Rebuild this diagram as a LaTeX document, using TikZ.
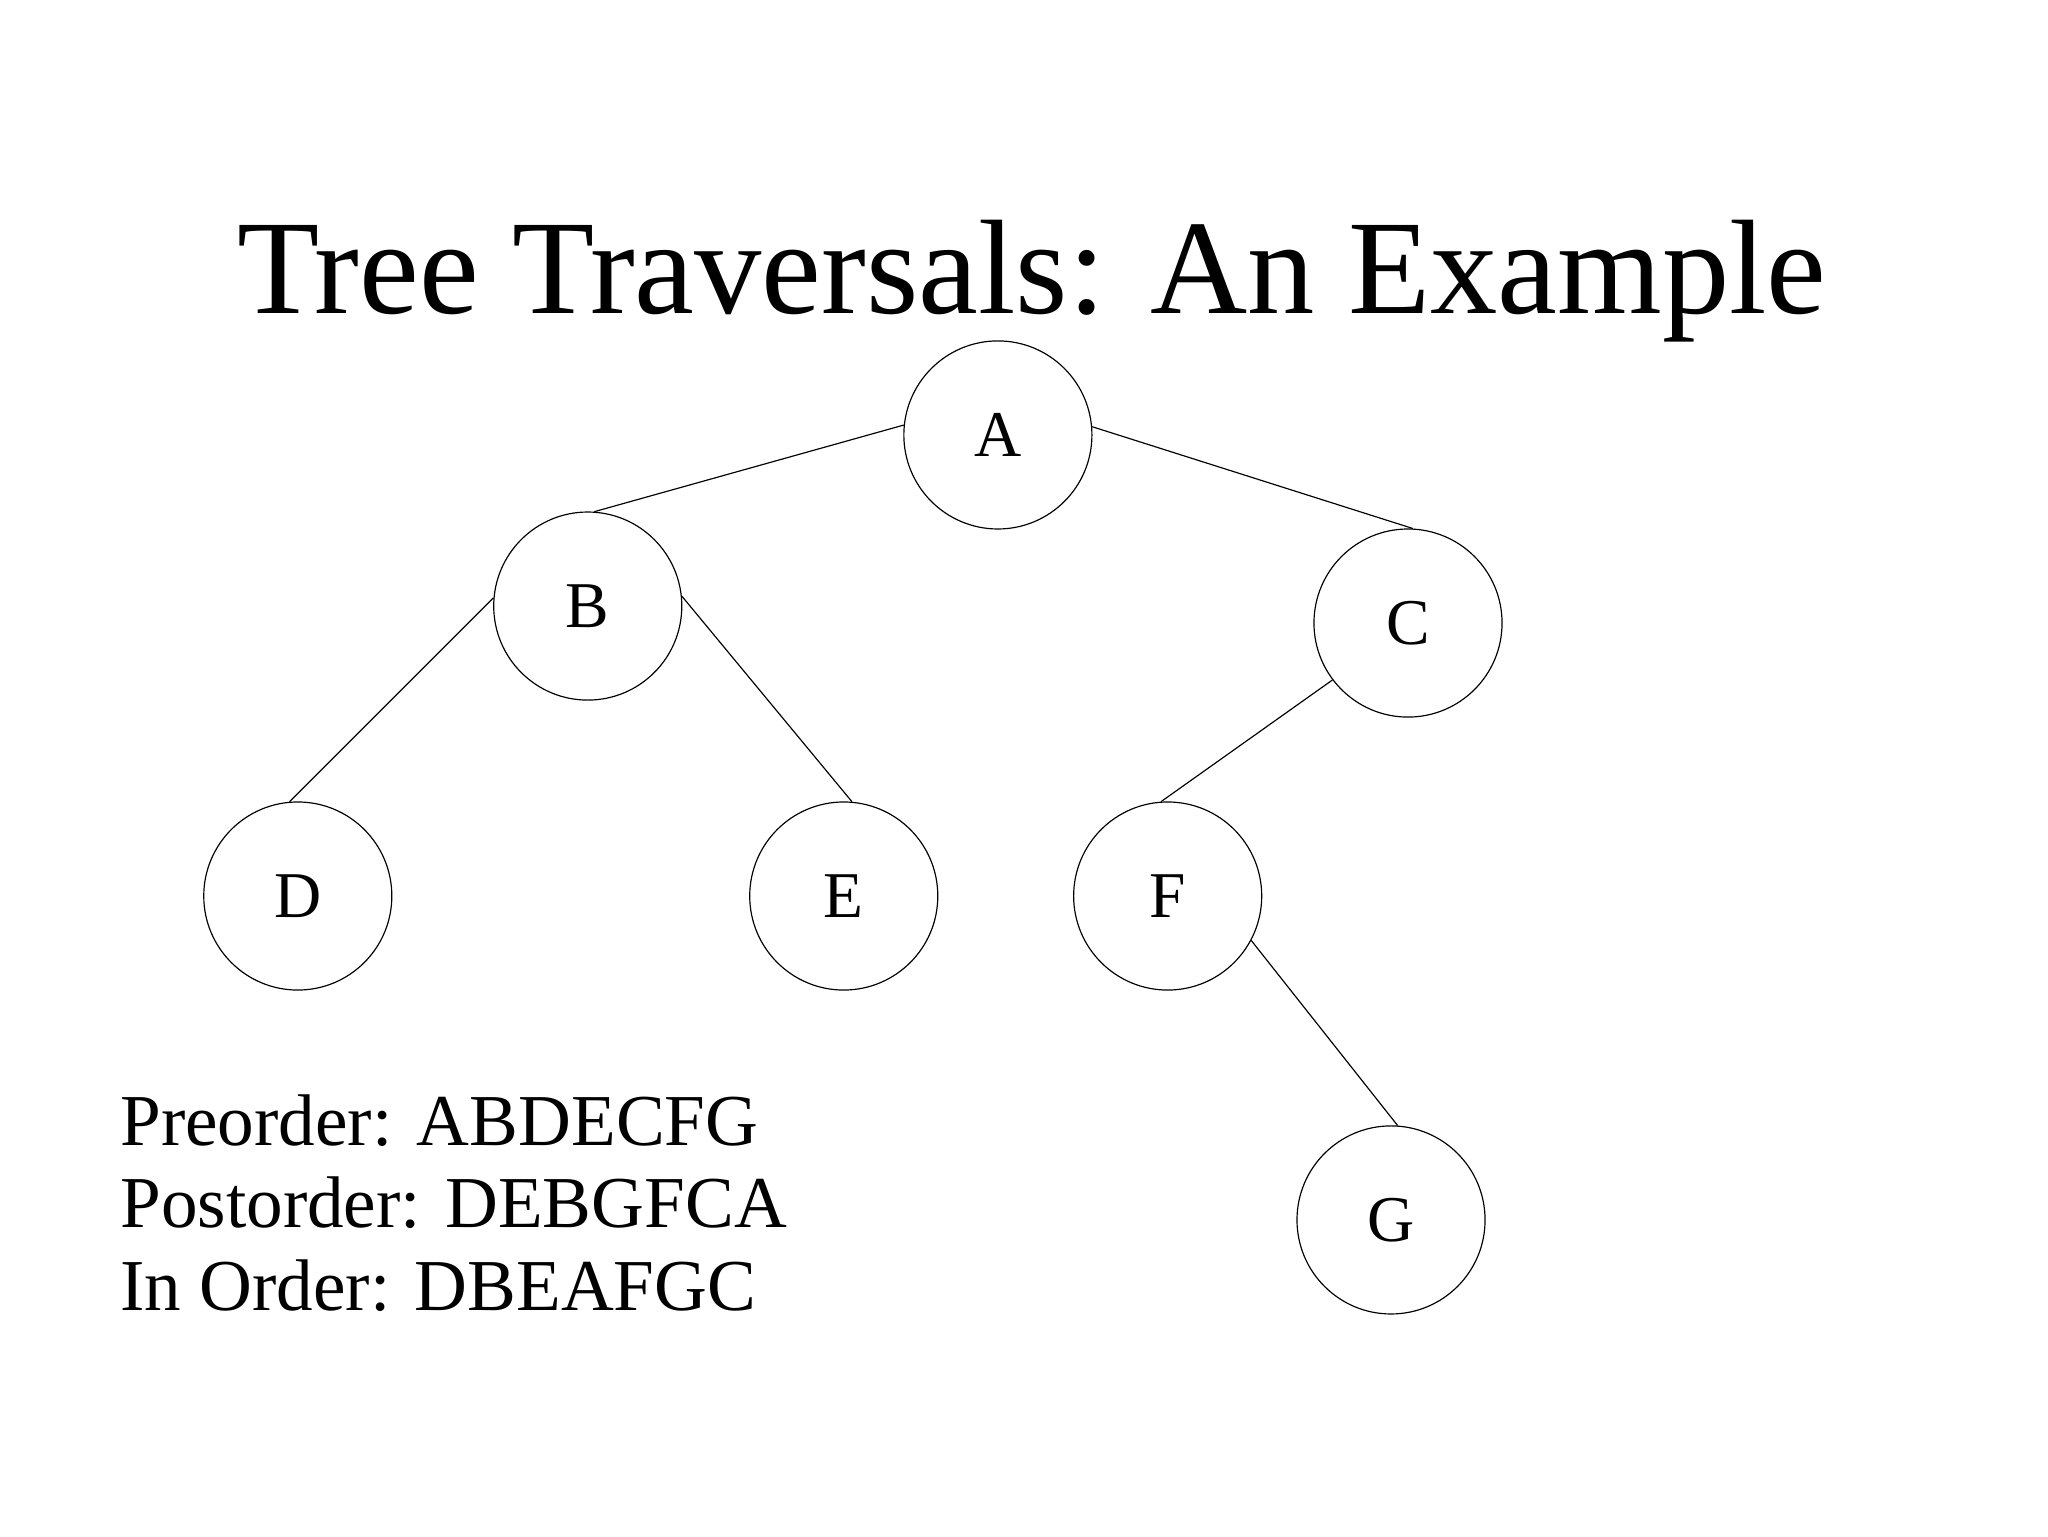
\documentclass[tikz,border=0pt]{standalone}
\usepackage{fontspec}
\setmainfont{Liberation Serif}
\begin{document}
\begin{tikzpicture}[x=1pt,y=-1pt,
  tnode/.style={draw,circle,minimum size=144pt,inner sep=0pt,line width=0.9pt,font=\fontsize{50}{60}\selectfont},
  edge/.style={line width=0.9pt}]
\useasboundingbox (0,0) rectangle (1568,1176);
\node[anchor=base,font=\fontsize{103}{120}\selectfont] (title) at (790,240) {Tree Traversals: An Example};
\node[tnode] (A) at (764,333) {A};
\node[tnode] (B) at (450,464) {B};
\node[tnode] (C) at (1078,477) {C};
\node[tnode] (D) at (228,686) {D};
\node[tnode] (E) at (646,686) {E};
\node[tnode] (F) at (894,686) {F};
\node[tnode] (G) at (1065,934) {G};
\draw[edge] (A.174) -- (B.86);
\draw[edge] (A.5) -- (C.87);
\draw[edge] (B.175) -- (D.95);
\draw[edge] (B.6) -- (E.85);
\draw[edge] (C.217) -- (F.94);
\draw[edge] (F.332) -- (G.86);
\node[anchor=base west,inner sep=0pt,font=\fontsize{56}{63}\selectfont] (l1) at (92,877) {Preorder: ABDECFG};
\node[anchor=base west,inner sep=0pt,font=\fontsize{56}{63}\selectfont] (l2) at (92,940) {Postorder: DEBGFCA};
\node[anchor=base west,inner sep=0pt,font=\fontsize{56}{63}\selectfont] (l3) at (92,1003) {In Order: DBEAFGC};
\end{tikzpicture}
\end{document}
